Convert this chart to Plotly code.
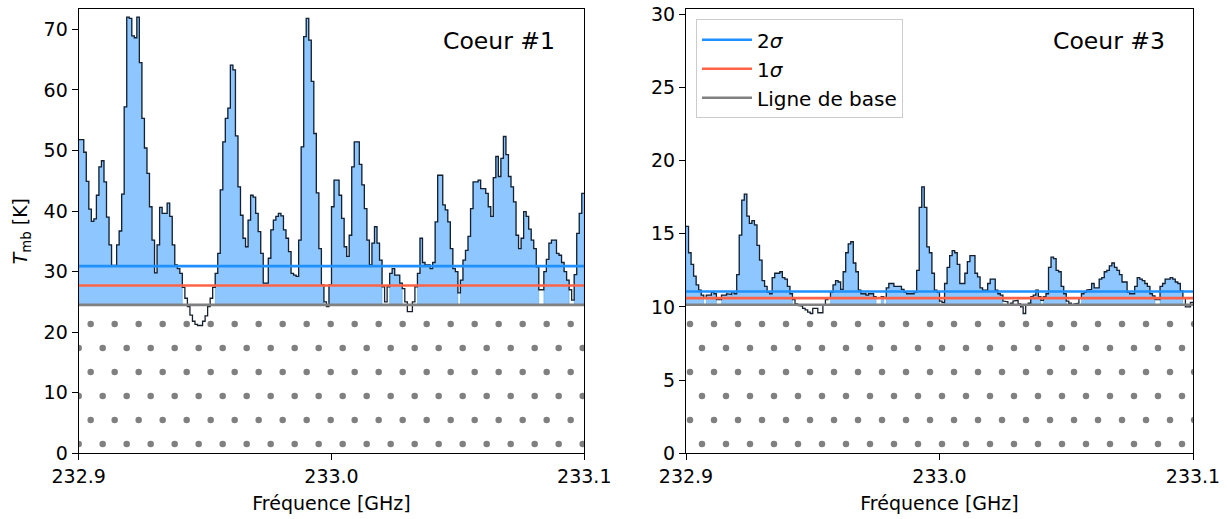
import numpy as np
import plotly.graph_objects as go

# ---------------- data ----------------
freq_start = 232.9          # GHz, left edge of first channel
chan_width = 0.001          # GHz
freq_range = [232.9, 233.1]
x_tickvals = [232.9, 233.0, 233.1]
x_ticktext = ["232.9", "233.0", "233.1"]

coeur1_tmb = [
    51.8, 51.8, 49.7, 44.9, 40.3, 38.3, 38.7, 42.6, 47.3, 48.3,
    44.8, 39.0, 34.4, 31.0, 31.0, 34.4, 36.7, 42.8, 57.2, 72.0,
    71.8, 68.9, 68.6, 72.0, 64.5, 55.3, 50.4, 46.2, 40.7, 35.2,
    29.8, 34.4, 40.6, 39.6, 39.6, 41.3, 39.1, 34.4, 31.1, 30.5,
    29.7, 27.4, 25.6, 24.2, 22.8, 21.8, 21.3, 21.1, 21.1, 21.8,
    22.7, 24.2, 25.6, 27.4, 29.7, 33.0, 43.5, 51.4, 55.3, 57.0,
    64.1, 63.3, 52.4, 44.0, 39.3, 35.5, 34.1, 38.5, 42.6, 42.3,
    39.6, 36.6, 33.0, 28.1, 28.1, 32.2, 36.9, 38.5, 39.1, 39.6,
    39.2, 36.9, 35.5, 33.3, 29.7, 29.4, 29.2, 35.2, 50.6, 68.8,
    71.8, 68.2, 61.4, 52.8, 43.0, 33.8, 27.8, 25.0, 24.2, 27.8,
    40.7, 45.1, 45.1, 42.6, 38.8, 34.1, 32.5, 36.0, 47.3, 51.4,
    51.4, 47.7, 44.3, 40.4, 35.2, 31.1, 34.7, 37.4, 34.7, 31.9,
    27.5, 25.0, 27.5, 29.7, 30.5, 29.4, 29.4, 28.1, 27.2, 25.0,
    23.4, 23.4, 25.0, 27.5, 29.7, 35.5, 31.5, 31.1, 31.1, 30.5,
    31.5, 38.2, 45.9, 45.9, 41.0, 40.2, 38.2, 33.8, 30.5, 30.0,
    26.5, 28.6, 31.9, 33.5, 35.8, 40.4, 44.8, 44.8, 45.1, 43.7,
    43.7, 42.9, 40.7, 39.1, 45.5, 49.0, 45.7, 48.7, 52.3, 49.3,
    45.7, 44.0, 41.5, 36.0, 33.8, 35.5, 39.9, 39.1, 37.0, 35.2,
    33.8, 30.8, 27.0, 27.0, 30.0, 32.0, 34.7, 35.2, 35.2, 33.0,
    32.7, 31.5, 30.0, 28.6, 27.0, 25.3, 29.5, 36.3, 39.6, 42.9,
]
coeur3_tmb = [
    15.5, 13.7, 12.9, 12.1, 11.5, 11.15, 10.8, 10.6, 10.8, 10.8,
    11.0, 10.9, 10.5, 10.5, 10.8, 10.8, 10.9, 10.85, 11.0, 10.9,
    12.2, 14.9, 17.3, 17.7, 16.2, 15.7, 15.9, 15.6, 14.2, 13.2,
    11.8, 11.4, 11.0, 10.9, 12.0, 12.3, 12.3, 12.4, 12.0, 11.9,
    11.4, 10.9, 10.5, 10.2, 10.1, 10.05, 9.9, 9.8, 9.65, 9.55,
    9.9, 9.9, 9.6, 9.6, 10.1, 10.5, 10.6, 11.0, 11.5, 11.8,
    11.7, 11.2, 12.4, 13.7, 14.3, 14.45, 13.0, 12.4, 11.15, 10.9,
    10.9, 10.8, 10.9, 10.9, 10.7, 10.6, 10.6, 10.7, 10.6, 11.3,
    11.6, 11.6, 11.4, 11.4, 11.4, 11.2, 11.0, 10.9, 10.9, 10.9,
    11.0, 12.5, 16.8, 18.2, 16.8, 14.1, 13.7, 12.3, 11.15, 11.0,
    10.4, 10.3, 11.6, 12.7, 13.5, 13.85, 13.7, 12.9, 11.6, 11.6,
    12.3, 13.1, 13.5, 13.5, 12.3, 12.05, 11.3, 11.15, 11.15, 11.6,
    11.9, 11.9, 11.15, 10.9, 10.8, 10.4, 10.35, 10.1, 10.25, 10.4,
    10.45, 10.2, 10.0, 9.55, 10.1, 10.25, 10.7, 10.8, 11.15, 10.7,
    10.45, 10.7, 10.9, 12.7, 13.4, 13.3, 12.5, 12.4, 11.4, 10.9,
    10.4, 10.25, 10.1, 10.2, 10.25, 10.6, 10.9, 11.0, 11.15, 11.2,
    11.6, 11.3, 11.3, 11.9, 12.0, 12.4, 12.5, 12.8, 13.0, 12.7,
    12.5, 12.2, 11.7, 11.7, 11.0, 10.9, 10.9, 11.4, 12.0, 11.9,
    11.8, 11.6, 11.4, 10.9, 10.75, 10.5, 10.5, 11.4, 11.6, 11.9,
    11.9, 12.0, 11.9, 11.7, 11.6, 11.1, 10.6, 10.0, 10.0, 10.3,
]

coeur1_baseline, coeur1_sigma1, coeur1_sigma2 = 24.5, 27.7, 30.9
coeur3_baseline, coeur3_sigma1, coeur3_sigma2 = 10.15, 10.6, 11.05

coeur1_yrange = [0, 73.35]
coeur3_yrange = [0, 30.35]
coeur1_yticks = [0, 10, 20, 30, 40, 50, 60, 70]
coeur3_yticks = [0, 5, 10, 15, 20, 25, 30]

# ---------------- styles ----------------
FONT = "DejaVu Sans"
FILL = "rgba(30,144,255,0.5)"
SPEC_LINE = "#16202e"
C_2S = "#1e90ff"
C_1S = "#ff6347"
C_BASE = "#808080"
DOT = "#808080"

W, H = 1228, 519
left_px = (78.7, 584.3)
right_px = (686.0, 1193.0)
top_px, bot_px = 9.0, 453.3
y_dom = [1 - bot_px / H, 1 - top_px / H]

fig = go.Figure()


def step_arrays(values):
    v = np.asarray(values, dtype=float)
    edges = freq_start + chan_width * np.arange(len(v) + 1)
    xs = np.repeat(edges, 2)[1:-1]
    ys = np.repeat(v, 2)
    return edges, xs, ys


def fill_polys(values, base, thresh):
    v = np.asarray(values, dtype=float)
    edges = freq_start + chan_width * np.arange(len(v) + 1)
    mask = v > thresh
    xs, ys = [], []
    i = 0
    n = len(v)
    while i < n:
        if mask[i]:
            j = i
            while j + 1 < n and mask[j + 1]:
                j += 1
            px = [edges[i]]
            py = [base]
            for k in range(i, j + 1):
                px += [edges[k], edges[k + 1]]
                py += [v[k], v[k]]
            px += [edges[j + 1], edges[i]]
            py += [base, base]
            xs += px + [None]
            ys += py + [None]
            i = j + 1
        else:
            i += 1
    return xs, ys


def hatch(xpx, yrange, baseline, phase_px):
    # matplotlib '.' hatch emulation (staggered dots), spacing in pixels
    sp = 24.0
    gx = (freq_range[1] - freq_range[0]) / (xpx[1] - xpx[0])
    gy = (yrange[1] - yrange[0]) / (bot_px - top_px)
    xs, ys = [], []
    row_px = bot_px - 9.3
    j = 0
    while True:
        yv = (bot_px - row_px) * gy
        if yv > baseline - 3.5 * gy:
            break
        off = phase_px + (0 if j % 2 == 0 else sp / 2)
        xp = np.arange(off - sp, xpx[1] - xpx[0] + sp, sp)
        for p in xp:
            xs.append(freq_range[0] + p * gx)
            ys.append(yv)
        row_px -= sp
        j += 1
    return xs, ys


panels = [
    dict(vals=coeur1_tmb, base=coeur1_baseline, s1=coeur1_sigma1, s2=coeur1_sigma2,
         xa="x", ya="y", xpx=left_px, yr=coeur1_yrange, phase=0.0, legend=False),
    dict(vals=coeur3_tmb, base=coeur3_baseline, s1=coeur3_sigma1, s2=coeur3_sigma2,
         xa="x2", ya="y2", xpx=right_px, yr=coeur3_yrange, phase=16.0, legend=True),
]

for p in panels:
    hx, hy = hatch(p["xpx"], p["yr"], p["base"], p["phase"])
    fig.add_trace(go.Scatter(x=hx, y=hy, mode="markers", xaxis=p["xa"], yaxis=p["ya"],
                             marker=dict(size=6.5, color=DOT, line=dict(width=0)),
                             showlegend=False, hoverinfo="skip", cliponaxis=True))
    fx, fy = fill_polys(p["vals"], p["base"], p["s1"])
    fig.add_trace(go.Scatter(x=fx, y=fy, mode="lines", fill="toself", fillcolor=FILL,
                             line=dict(width=1, color="rgba(30,144,255,0.35)"),
                             xaxis=p["xa"], yaxis=p["ya"], showlegend=False, hoverinfo="skip"))
    _, sx, sy = step_arrays(p["vals"])
    fig.add_trace(go.Scatter(x=sx, y=sy, mode="lines", line=dict(width=1.3, color=SPEC_LINE),
                             xaxis=p["xa"], yaxis=p["ya"], showlegend=False, hoverinfo="skip"))
    for name, lvl, col in [("2<i>σ</i>", p["s2"], C_2S), ("1<i>σ</i>", p["s1"], C_1S),
                           ("Ligne de base", p["base"], C_BASE)]:
        fig.add_trace(go.Scatter(x=freq_range, y=[lvl, lvl], mode="lines", name=name,
                                 line=dict(width=2.6, color=col),
                                 xaxis=p["xa"], yaxis=p["ya"], showlegend=p["legend"],
                                 hoverinfo="skip"))

axis_common = dict(showline=True, linecolor="black", linewidth=1.2, mirror=True,
                   ticks="outside", ticklen=6, tickwidth=1.2, tickcolor="black",
                   showgrid=False, zeroline=False, automargin=False,
                   tickfont=dict(family=FONT, size=19, color="black"))

xtitle = dict(text="Fréquence [GHz]", font=dict(family=FONT, size=19, color="black"), standoff=10)

fig.update_layout(
    template="none",
    width=W, height=H,
    margin=dict(l=0, r=0, t=0, b=0, autoexpand=False),
    paper_bgcolor="white", plot_bgcolor="white",
    font=dict(family=FONT, size=19, color="black"),
    xaxis=dict(domain=[left_px[0] / W, left_px[1] / W], range=freq_range,
               tickvals=x_tickvals, ticktext=x_ticktext, title=xtitle, anchor="y", **axis_common),
    yaxis=dict(domain=y_dom, range=coeur1_yrange, tickvals=coeur1_yticks, anchor="x",
               title=dict(text="<i>T</i><sub>mb</sub> [K]",
                          font=dict(family=FONT, size=19, color="black"), standoff=10),
               **axis_common),
    xaxis2=dict(domain=[right_px[0] / W, right_px[1] / W], range=freq_range,
                tickvals=x_tickvals, ticktext=x_ticktext, title=xtitle, anchor="y2", **axis_common),
    yaxis2=dict(domain=y_dom, range=coeur3_yrange, tickvals=coeur3_yticks, anchor="x2",
                **axis_common),
    legend=dict(x=696 / W, y=1 - 19.3 / H, xanchor="left", yanchor="top",
                bgcolor="rgba(255,255,255,0.8)", bordercolor="#cccccc", borderwidth=1,
                itemwidth=50,
                font=dict(family=FONT, size=20, color="black"), tracegroupgap=0),
    showlegend=True,
    annotations=[
        dict(text="Coeur #1", xref="x domain", yref="y domain", x=0.9466, y=0.928,
             xanchor="right", yanchor="middle", showarrow=False,
             font=dict(family=FONT, size=23.5, color="black")),
        dict(text="Coeur #3", xref="x2 domain", yref="y2 domain", x=0.9487, y=0.928,
             xanchor="right", yanchor="middle", showarrow=False,
             font=dict(family=FONT, size=23.5, color="black")),
    ],
)

fig.write_html("out.html", config={"displayModeBar": False},
               post_script="document.body.style.margin='0';document.body.style.overflow='hidden';")
